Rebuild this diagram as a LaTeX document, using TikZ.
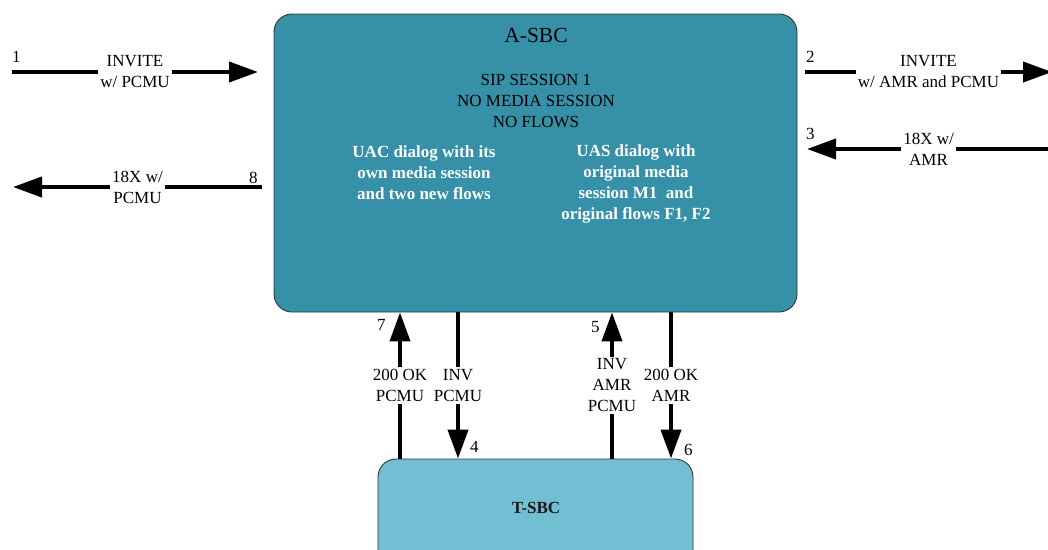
\documentclass[tikz,border=0pt]{standalone}
\usepackage{fontspec}
\setmainfont{Liberation Serif}
\usetikzlibrary{arrows.meta, calc}
\definecolor{asbcfill}{RGB}{54,145,168}
\definecolor{tsbcfill}{RGB}{114,190,211}
\colorlet{boxline}{black!80}
\def\arrw{4pt}
\def\txtsize{\fontsize{17}{21}\selectfont}

\tikzset{
  sbcbox/.style={draw=boxline, line width=0.9pt, rounded corners=18pt, inner sep=0pt},
  msg/.style={line width=\arrw, -{Triangle[length=29pt,width=20pt]}},
  msglabel/.style={fill=white, align=center, inner sep=2pt},
  msgnum/.style={anchor=base west, inner sep=0pt},
}

\begin{document}
\begin{tikzpicture}[x=1pt, y=-1pt, font=\txtsize]
  \useasboundingbox (0,0) rectangle (1048,549);

  % the two SBCs
  \node[sbcbox, fill=asbcfill, minimum width=523pt, minimum height=298pt] (asbc) at (535.5,163) {};
  \node[sbcbox, fill=tsbcfill, minimum width=315pt, minimum height=130pt] (tsbc) at (535.5,524) {};

  \node[font=\fontsize{21.5}{24}\selectfont] (title) at (536,35) {A-SBC};
  \node[align=center] (sip) at (536,101) {SIP SESSION 1\\NO MEDIA SESSION\\NO FLOWS};
  \node[align=center, white, font=\txtsize\bfseries] (uac) at (424,173)
    {UAC dialog with its\\own media session\\and two new flows};
  \node[align=center, white, font=\txtsize\bfseries] (uas) at (636,184)
    {UAS dialog with\\original media\\session M1\ \ and\\original flows F1, F2};
  \node[font=\txtsize\bfseries, black!90] (tsbctext) at (536,508) {T-SBC};

  % outside legs
  \coordinate (w1) at (12,72);   \coordinate (e1) at (258,72);
  \coordinate (e8) at (262,187); \coordinate (w8) at (13,187);
  \coordinate (w2) at (805,72);  \coordinate (e2) at (1052,72);
  \coordinate (e3) at (1050,149); \coordinate (w3) at (807,149);

  \draw[msg] (w1) -- node[msglabel] (l1) {INVITE\\w/ PCMU} (e1);
  \draw[msg] (e8) -- node[msglabel] (l8) {18X w/\\PCMU} (w8);
  \draw[msg] (w2) -- node[msglabel] (l2) {INVITE\\w/ AMR and PCMU} (e2);
  \draw[msg] (e3) -- node[msglabel] (l3) {18X w/\\AMR} (w3);

  % legs between A-SBC and T-SBC
  \coordinate (x7) at (400,0);
  \coordinate (x4) at (458,0);
  \coordinate (x5) at (612,0);
  \coordinate (x6) at (671,0);

  \draw[msg] (tsbc.north -| x7) -- node[msglabel] (l7) {200 OK\\PCMU} (asbc.south -| x7);
  \draw[msg] (asbc.south -| x4) -- node[msglabel] (l4) {INV\\PCMU} (tsbc.north -| x4);
  \draw[msg] (tsbc.north -| x5) -- node[msglabel] (l5) {INV\\AMR\\PCMU} (asbc.south -| x5);
  \draw[msg] (asbc.south -| x6) -- node[msglabel] (l6) {200 OK\\AMR} (tsbc.north -| x6);

  % step numbers
  \node[msgnum] (n1) at (12,62) {1};
  \node[msgnum] (n2) at (806,62) {2};
  \node[msgnum] (n3) at (806,139) {3};
  \node[msgnum] (n4) at (470,452) {4};
  \node[msgnum] (n5) at (591,332) {5};
  \node[msgnum] (n6) at (684,455) {6};
  \node[msgnum] (n7) at (377,330) {7};
  \node[msgnum] (n8) at (249,183) {8};
\end{tikzpicture}
\end{document}
